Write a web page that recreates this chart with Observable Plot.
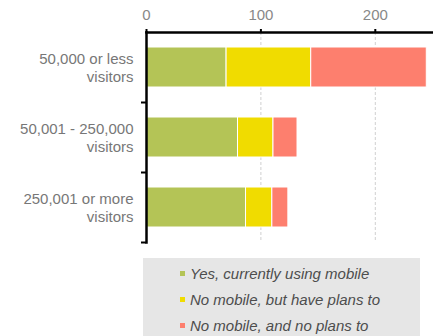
<!DOCTYPE html>
<html><head><meta charset="utf-8">
<script src="https://cdn.jsdelivr.net/npm/d3@7"></script>
<script src="https://cdn.jsdelivr.net/npm/@observablehq/plot@0.6"></script>
<style>
body{margin:0;background:#fff;font-family:"Liberation Sans",Arial,sans-serif;}
#legend{margin:8px 0 0 143px;width:277px;height:80px;background:#e6e6e6;padding-top:3px;box-sizing:border-box;}
.row{height:26px;line-height:26px;padding-left:37px;font-style:italic;font-size:15px;color:#4d4d4d;white-space:nowrap;}
.sw{display:inline-block;width:5px;height:5px;margin-right:5px;vertical-align:middle;position:relative;top:-2px;}
</style></head><body><div id="chart"></div><div id="legend"></div><script>
const categories = ["50,000 or less\nvisitors", "50,001 - 250,000\nvisitors", "250,001 or more\nvisitors"];
const series = ["Yes, currently using mobile", "No mobile, but have plans to", "No mobile, and no plans to"];
const yesMobile = [70, 80, 87];
const plansTo = [74, 31, 23];
const noPlans = [101, 21, 14];
const colors = ["#b4c456", "#f0dc00", "#fd7f6e"];
const xTicks = [0, 100, 200];

const seriesValues = [yesMobile, plansTo, noPlans];
const data = categories.flatMap((c, i) => seriesValues.map((arr, j) => ({category: c, series: series[j], value: arr[i]})));

const chart = Plot.plot({
  width: 433, height: 250, marginTop: 32, marginBottom: 8, marginLeft: 146, marginRight: 1,
  style: {fontFamily: '"Liberation Sans", Arial, sans-serif', fontSize: "15px", color: "#777", background: "#fff"},
  x: {domain: [0, 250], axis: null, label: null},
  y: {domain: categories, padding: 0, axis: null, label: null},
  color: {domain: series, range: colors},
  marks: [
    Plot.gridX(xTicks.slice(1), {stroke: "#d0d0d0", strokeOpacity: 1, strokeDasharray: "3,2"}),
    Plot.barX(data, {x: "value", y: "category", fill: "series", stroke: "#fff", strokeWidth: 1, insetTop: 15, insetBottom: 15}),
    Plot.axisX(xTicks, {anchor: "top", tickSize: 4, tickPadding: 9, strokeWidth: 2, stroke: "#000", fill: "#888", fontSize: 15, label: null}),
    Plot.axisY({anchor: "left", tickSize: 5, tickFormat: () => "", dy: 35, strokeWidth: 2, stroke: "#000", label: null}),
    Plot.axisY({anchor: "left", tickSize: 0, tickPadding: 13, lineHeight: 1.18, fill: "#777", fontSize: 15, label: null}),
    Plot.frame({anchor: "top", stroke: "#000", strokeWidth: 2.5}),
    Plot.frame({anchor: "left", stroke: "#000", strokeWidth: 2.5})
  ]
});
document.getElementById("chart").appendChild(chart);

const legend = document.getElementById("legend");
series.forEach((s, i) => {
  const row = document.createElement("div");
  row.className = "row";
  const sw = document.createElement("span");
  sw.className = "sw";
  sw.style.background = colors[i];
  row.appendChild(sw);
  row.appendChild(document.createTextNode(s));
  legend.appendChild(row);
});
</script></body></html>
